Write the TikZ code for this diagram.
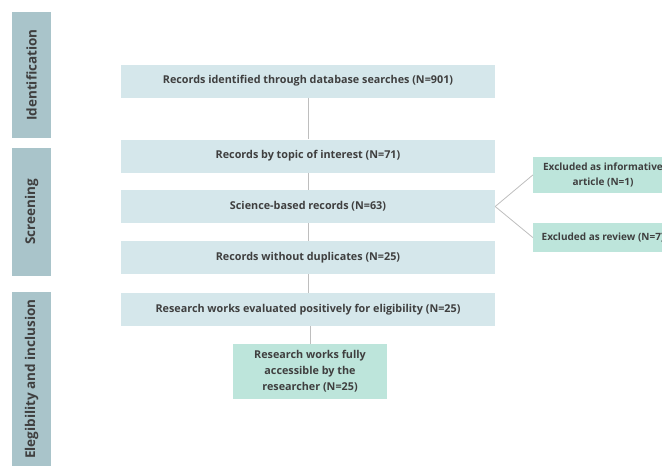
\documentclass[tikz,border=0pt]{standalone}
\usepackage{fontspec}
\setmainfont{Open Sans}
\definecolor{boxblue}{HTML}{D5E7EB}
\definecolor{boxgreen}{HTML}{BDE5DB}
\definecolor{phasegray}{HTML}{A9C4CA}
\definecolor{textgray}{HTML}{3F3F3F}
\definecolor{linegray}{HTML}{BEBEBE}

\begin{document}
\begin{tikzpicture}[x=1pt, y=-1pt,
    font=\bfseries\fontsize{10.8}{16}\selectfont, text=textgray,
    mainbox/.style={fill=boxblue, minimum width=374pt, minimum height=33pt, inner sep=0pt},
    greenbox/.style={fill=boxgreen, align=center, inner sep=0pt},
    sidebox/.style={greenbox, minimum width=140pt, font=\bfseries\fontsize{10}{15}\selectfont},
    phase/.style={fill=phasegray, rotate=90, minimum height=39pt, inner sep=0pt, font=\bfseries\fontsize{13.5}{15}\selectfont},
    link/.style={draw=linegray, line width=0.8pt}]
    \useasboundingbox (0,0) rectangle (662,466);
    \clip (0,0) rectangle (662,466);

    % phases
    \node[phase, minimum width=126pt] (identification) at (31.5,75) {Identification};
    \node[phase, minimum width=128pt] (screening) at (31.5,212) {Screening};
    \node[phase, minimum width=174pt] (eligibility) at (31.5,379) {Elegibility and inclusion};

    % main flow
    \node[mainbox] (searches) at (308,81) {Records identified through database searches (N=901)};
    \node[mainbox] (topic) at (308,156) {Records by topic of interest (N=71)};
    \node[mainbox] (science) at (308,206.5) {Science-based records (N=63)};
    \node[mainbox] (nodup) at (308,257.5) {Records without duplicates (N=25)};
    \node[mainbox] (eligible) at (308,309.5) {Research works evaluated positively for eligibility (N=25)};
    \node[greenbox, minimum width=154pt, minimum height=55pt] (access) at (310,371.5) {Research works fully\\accessible by the\\researcher (N=25)};

    % exclusions
    \node[sidebox, minimum height=36pt] (informative) at (603,175) {Excluded as informative\\article (N=1)};
    \node[sidebox, minimum height=29pt] (review) at (603,237.5) {Excluded as review (N=7)};

    \draw[link] (searches) -- (topic);
    \draw[link] (topic) -- (science);
    \draw[link] (science) -- (nodup);
    \draw[link] (nodup) -- (eligible);
    \draw[link] (eligible.south -| access.north) -- (access);
    \draw[link] (science.east) -- (informative.west);
    \draw[link] (science.east) -- (review.west);
\end{tikzpicture}
\end{document}
